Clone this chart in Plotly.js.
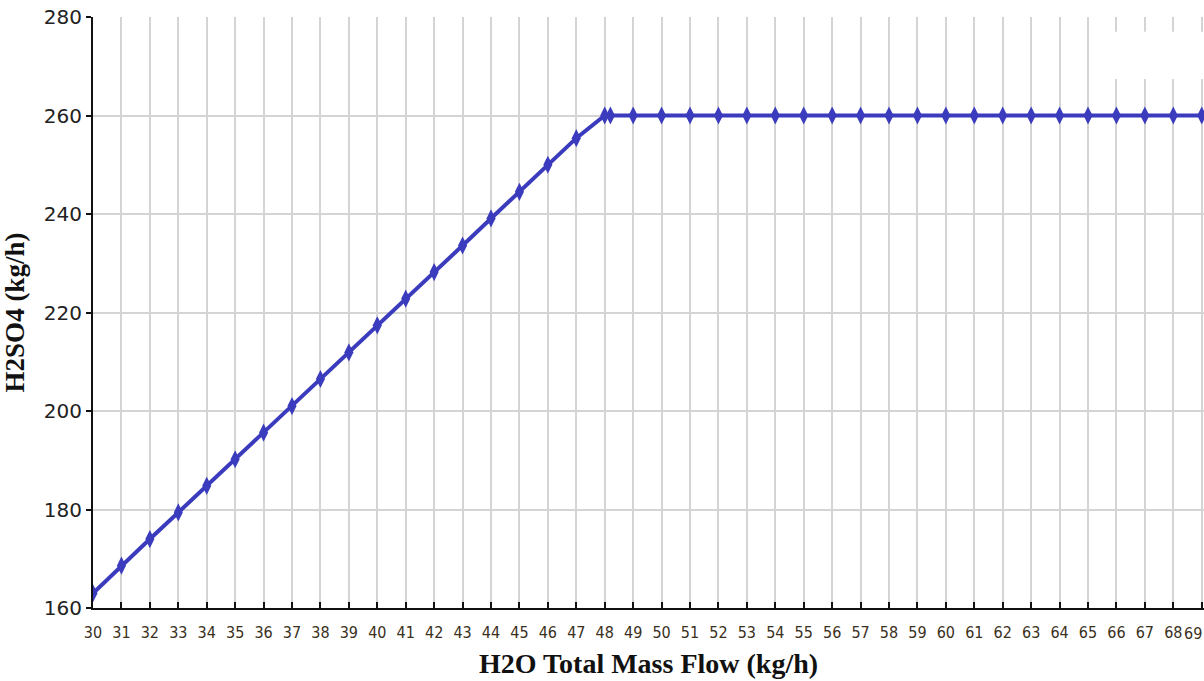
<!DOCTYPE html>
<html>
<head>
<meta charset="utf-8">
<script src="https://cdn.plot.ly/plotly-3.0.1.min.js"></script>
<style>html,body{margin:0;padding:0;background:#fff;}#chart{width:1204px;height:681px;}</style>
</head>
<body>
<div id="chart"></div>
<script>
const h2oFlow = [30,31,32,33,34,35,36,37,38,39,40,41,42,43,44,45,46,47,48,48.2,49,50,51,52,53,54,55,56,57,58,59,60,61,62,63,64,65,66,67,68,69];
const h2so4 = [163,168.6,174,179.4,184.8,190.2,195.6,201,206.5,211.9,217.4,222.8,228.2,233.6,239.1,244.5,250,255.4,260,260,260,260,260,260,260,260,260,260,260,260,260,260,260,260,260,260,260,260,260,260,260];
const xTicks = [];
for (let v = 30; v <= 68; v++) xTicks.push(v);
const lastTick = 69;
const yTicks = [160,180,200,220,240,260,280];

const tickFontX = {family: 'Liberation Sans Narrow, DejaVu Sans Condensed, sans-serif', size: 16, color: '#3a3020'};

const trace = {
  x: h2oFlow, y: h2so4, type: 'scatter', mode: 'lines+markers',
  line: {color: '#3b3bbd', width: 4},
  marker: {color: '#3b3bbd', size: 13, symbol: 'diamond-tall'},
  showlegend: false, hoverinfo: 'x+y'
};

const layout = {
  width: 1204, height: 681,
  margin: {l: 93, r: 0, t: 17, b: 73},
  paper_bgcolor: '#ffffff', plot_bgcolor: '#ffffff',
  xaxis: {
    range: [30, 69.08], tickvals: xTicks.concat([lastTick]), ticktext: xTicks.map(String).concat(['']),
    showgrid: true, gridcolor: '#d4d4d4', gridwidth: 2,
    showline: true, linecolor: '#111', linewidth: 2,
    ticks: 'inside', ticklen: 6, tickcolor: '#111', tickwidth: 2,
    zeroline: false, ticklabelstandoff: 9,
    tickfont: tickFontX,
    title: {text: 'H2O Total Mass Flow (kg/h)', standoff: 12,
      font: {family: 'Liberation Serif, Times New Roman, serif', size: 28, color: '#111', weight: 'bold'}}
  },
  yaxis: {
    range: [160, 280], tickvals: yTicks,
    showgrid: true, gridcolor: '#d4d4d4', gridwidth: 2,
    showline: true, linecolor: '#111', linewidth: 2,
    ticks: 'outside', ticklen: 5, tickcolor: '#111', tickwidth: 2,
    zeroline: false,
    tickfont: {family: 'DejaVu Sans, Verdana, sans-serif', size: 20, color: '#222'},
    title: {text: 'H2SO4 (kg/h)', standoff: 12,
      font: {family: 'Liberation Serif, Times New Roman, serif', size: 27, color: '#111', weight: 'bold'}}
  },
  annotations: [
    {x: 1.0, xref: 'paper', yref: 'paper', y: 0, yshift: -14, text: String(lastTick), showarrow: false,
     xanchor: 'right', yanchor: 'top', font: {family: tickFontX.family, size: 16, color: tickFontX.color}}
  ],
  shapes: [
    {type: 'rect', xref: 'paper', yref: 'paper', x0: 0.898, x1: 1.0, y0: 0.895, y1: 0.975,
     fillcolor: '#ffffff', line: {width: 0}, layer: 'above'}
  ]
};

Plotly.newPlot('chart', [trace], layout, {displayModeBar: false, staticPlot: true});
</script>
</body>
</html>
